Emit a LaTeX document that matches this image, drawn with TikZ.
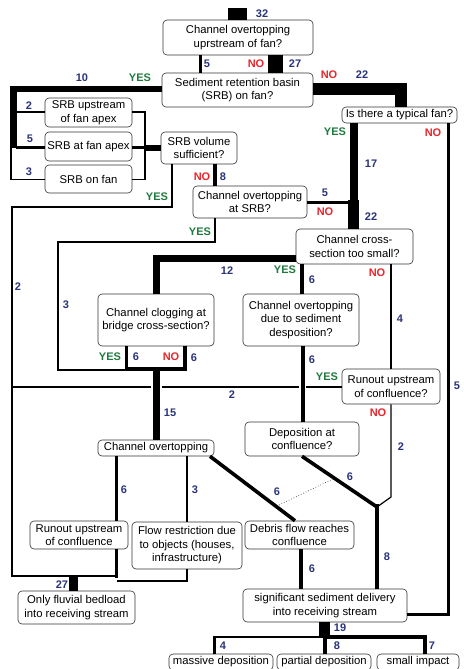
\documentclass[tikz,border=0pt]{standalone}
\usepackage{fontspec}
\setmainfont{Liberation Sans}
\usetikzlibrary{calc}
\definecolor{numblue}{RGB}{42,52,122}
\definecolor{yesgreen}{RGB}{32,122,62}
\definecolor{nored}{RGB}{232,38,44}
\begin{document}
\begin{tikzpicture}[x=1pt,y=-1pt,line cap=butt,line join=miter,
  box/.style={draw=black!80,line width=0.6pt,rounded corners=4pt,fill=white,inner sep=0pt,align=center,font=\fontsize{11.3}{13.5}\selectfont},
  lab/.style={font=\bfseries\fontsize{11}{13}\selectfont,inner sep=0pt},
  num/.style={lab,text=numblue},
  yes/.style={lab,text=yesgreen},
  no/.style={lab,text=nored},
  f2/.style={line width=1.2pt},
  f3/.style={line width=1.7pt},
  f4/.style={line width=2.4pt},
  f5/.style={line width=3pt},
  f6/.style={line width=3.6pt},
  f7/.style={line width=4pt},
  f8/.style={line width=4.6pt},
  f10/.style={line width=6.2pt},
  f12/.style={line width=7pt},
  f15/.style={line width=7.5pt},
  f17/.style={line width=8.5pt},
  f19/.style={line width=11pt},
  f22/.style={line width=12pt},
  f22b/.style={line width=11.5pt},
  f27/.style={line width=15pt},
  f32/.style={line width=19pt},
  fblk/.style={line width=8.5pt}]
\clip (0,0) rectangle (463,669);
\fill[white] (0,0) rectangle (463,669);
% boxes
\node[box,minimum width=150pt,minimum height=35pt] (b1) at (238,37.5) {Channel overtopping\\uprstream of fan?};
\node[box,minimum width=151pt,minimum height=34pt] (b2) at (237.5,90) {Sediment retention basin\\(SRB) on fan?};
\node[box,minimum width=87pt,minimum height=29pt] (srb1) at (88.5,112.5) {SRB upstream\\of fan apex};
\node[box,minimum width=87pt,minimum height=29pt] (srb2) at (88.5,146.5) {SRB at fan apex};
\node[box,minimum width=87pt,minimum height=28pt] (srb3) at (88.5,179) {SRB on fan};
\node[box,minimum width=76pt,minimum height=32pt] (vol) at (199,148) {SRB volume\\sufficient?};
\node[box,minimum width=114pt,minimum height=32pt] (osrb) at (250,202) {Channel overtopping\\at SRB?};
\node[box,minimum width=115pt,minimum height=16pt] (fan) at (399.5,115) {Is there a typical fan?};
\node[box,minimum width=117pt,minimum height=35pt] (cs) at (354.5,246.5) {Channel cross-\\section too small?};
\node[box,minimum width=116pt,minimum height=52pt] (clog) at (156,320) {Channel clogging at\\bridge cross-section?};
\node[box,minimum width=116pt,minimum height=52pt] (dep) at (301,320) {Channel overtopping\\due to sediment\\desposition?};
\node[box,minimum width=98pt,minimum height=35pt] (rq) at (391,386.5) {Runout upstream\\of confluence?};
\node[box,minimum width=114pt,minimum height=34pt] (conf) at (302,439) {Deposition at\\confluence?};
\node[box,minimum width=116pt,minimum height=16pt] (co) at (156,448) {Channel overtopping};
\node[box,minimum width=98pt,minimum height=28pt] (ru) at (79,535) {Runout upstream\\of confluence};
\node[box,minimum width=110pt,minimum height=47pt] (fr) at (187,545.5) {Flow restriction due\\to objects (houses,\\infrastructure)};
\node[box,minimum width=109pt,minimum height=28pt] (df) at (299.5,535) {Debris flow reaches\\confluence};
\node[box,minimum width=117pt,minimum height=33pt] (ofb) at (76.5,607.5) {Only fluvial bedload\\into receiving stream};
\node[box,minimum width=164pt,minimum height=33pt] (ssd) at (325,605.5) {significant sediment delivery\\into receiving stream};
\node[box,minimum width=104pt,minimum height=16pt] (md) at (221,662) {massive deposition};
\node[box,minimum width=94pt,minimum height=16pt] (pd) at (324,662) {partial deposition};
\node[box,minimum width=82pt,minimum height=16pt] (si) at (418,662) {small impact};
% connectors
\coordinate (src) at (237.5,8);
\draw[f32] (src) -- (b1.north -| src);
\draw[f5] (b1.south -| 200,0) -- (b2.north -| 200,0);
\draw[f27] (b1.south -| 275.5,0) -- (b2.north -| 275.5,0);
\draw[f10] (b2.west |- 0,89) -| (13.5,148);
\draw[f2] (16,112) -- (srb1.west |- 0,112);
\draw[f5] (16,147) -- (srb2.west |- 0,147);
\draw[f3] (11.3,148) |- (srb3.west |- 0,179.5);
\draw[f2] (srb1.east |- 0,112) -| (145,179.5) -- (srb3.east |- 0,179.5);
\draw[f5] (srb2.east |- 0,147.5) -- (145,147.5);
\draw[f10] (144,148) -- (vol.west |- 0,148);
\draw[f8] (vol.south -| 215,0) -- (osrb.north -| 215,0);
\draw[f2] (vol.south -| 172,0) |- (12,207) -- (12,387);
\draw[f3] (osrb.south -| 215,0) |- (58,242) -- (58,370) -- (127,370);
\draw[f5] (osrb.east |- 0,202) -- (354,202);
\draw[f22] (b2.east |- 0,89) -| (fan.north -| 401,0);
\draw[f17] (fan.south -| 354,0) -- (354,202);
\draw[f22b] (353.5,200) -- (cs.north -| 353.5,0);
\draw[f5] (fan.south -| 448,0) |- (ssd.east |- 0,614);
\draw[f12] (cs.west |- 0,258) -| (clog.north -| 156,0);
\draw[f6] (cs.south -| 302,0) -- (dep.north -| 302,0);
\draw[f4] (cs.south -| 391,0) -- (rq.north -| 391,0);
\draw[f6] (clog.south -| 126.5,0) -- (126.5,369) -- (185,369) -- (clog.south -| 185,0);
\draw[f15] (156.5,369) -- (co.north -| 156.5,0);
\draw[f2] (rq.west |- 0,387) -- (306,387);
\draw[f2] (298.5,387) -- (162,387);
\draw[f2] (150.5,387) -- (12,387);
\coordinate (jC) at (377,507);
\draw[f2] (rq.south -| 391,0) -- (391,497) -- (jC);
\draw[f6] (dep.south -| 303,0) -- (conf.north -| 303,0);
\draw[f6] (conf.south -| 302,0) -- (jC);
\draw[f8] (377,504) -- (ssd.north -| jC);
\draw[f6] (co.south -| 116.5,0) -- (ru.north -| 116.5,0);
\draw[f3] (co.south -| 187,0) -- (fr.north -| 187,0);
\draw[f6] (co.south -| 210,0) -- (df.north -| 295,0);
\draw[dotted,black!70,line width=0.7pt] (279,505) -- (333,479);
\draw[f6] (df.south -| 301,0) -- (ssd.north -| 301,0);
\draw[f4] (12,387) -- (12,576) -- (118,576);
\draw[f6] (ru.south -| 116.5,0) -- (116.5,578);
\draw[f3] (fr.south -| 187,0) |- (116.5,581);
\draw[fblk] (73.5,576) -- (ofb.north -| 73.5,0);
\draw[f19] (ssd.south -| 324.5,0) -- (324.5,637);
\draw[f4] (md.north -| 214.5,0) |- (325,637);
\draw[f8] (325,636) -- (pd.north -| 325,0);
\draw[f7] (si.north -| 424.5,0) |- (325,637);
% labels
\node[num] (l1) at (262,14) {32};
\node[num] (l2) at (207,64) {5};
\node[no] (l3) at (256,64) {NO};
\node[num] (l4) at (295,64) {27};
\node[num] (l5) at (82,78) {10};
\node[yes] (l6) at (140,78) {YES};
\node[no] (l7) at (329,75) {NO};
\node[num] (l8) at (362,75) {22};
\node[num] (l9) at (29,106) {2};
\node[num] (l10) at (30,139) {5};
\node[num] (l11) at (29,172) {3};
\node[yes] (l12) at (335,132) {YES};
\node[no] (l13) at (433,133) {NO};
\node[num] (l14) at (371,164) {17};
\node[no] (l15) at (202,177) {NO};
\node[num] (l16) at (223,177) {8};
\node[yes] (l17) at (157,197) {YES};
\node[num] (l18) at (325,193) {5};
\node[no] (l19) at (325,212) {NO};
\node[num] (l20) at (371,217) {22};
\node[yes] (l21) at (200,232) {YES};
\node[num] (l22) at (227,271) {12};
\node[yes] (l23) at (285,270) {YES};
\node[num] (l24) at (312,280) {6};
\node[no] (l25) at (377,273) {NO};
\node[num] (l26) at (18,287) {2};
\node[num] (l27) at (66,305) {3};
\node[num] (l28) at (400,319) {4};
\node[yes] (l29) at (110,357) {YES};
\node[num] (l30) at (136,357) {6};
\node[no] (l31) at (171,357) {NO};
\node[num] (l32) at (194,358) {6};
\node[num] (l33) at (312,360) {6};
\node[yes] (l34) at (327,377) {YES};
\node[num] (l35) at (457,386) {5};
\node[num] (l36) at (232,395) {2};
\node[num] (l37) at (170,413) {15};
\node[no] (l38) at (378,413) {NO};
\node[num] (l39) at (401,447) {2};
\node[num] (l40) at (350,477) {6};
\node[num] (l41) at (124,490) {6};
\node[num] (l42) at (195,490) {3};
\node[num] (l43) at (277,492) {6};
\node[num] (l44) at (387,557) {8};
\node[num] (l45) at (312,569) {6};
\node[num] (l46) at (62,585) {27};
\node[num] (l47) at (340,628) {19};
\node[num] (l48) at (223,646) {4};
\node[num] (l49) at (337,646) {8};
\node[num] (l50) at (432,646) {7};
\end{tikzpicture}
\end{document}
